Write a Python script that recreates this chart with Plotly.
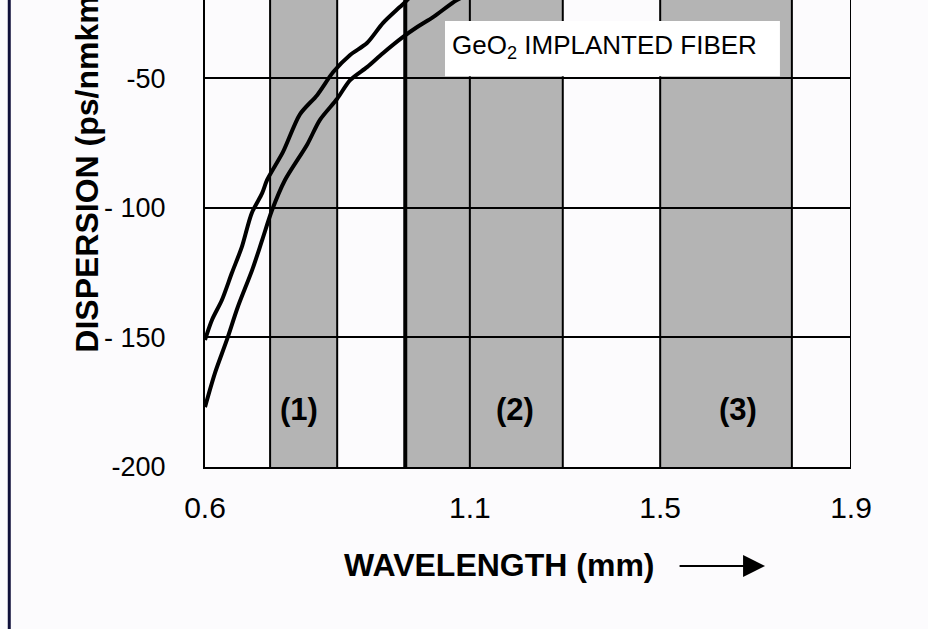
import plotly.graph_objects as go

# ---- data ----
curve_a_x = [0.600, 0.614, 0.634, 0.654, 0.674, 0.694, 0.715, 0.725, 0.757, 0.791, 0.826,
             0.858, 0.892, 0.926, 0.958, 0.992, 1.007, 1.025]
curve_a_y = [-151.0, -143.3, -135.6, -125.2, -115.2, -102.1, -94.4, -89.3, -78.5, -64.0, -56.5,
             -47.7, -41.1, -36.5, -28.8, -22.6, -19.9, -15.5]

curve_b_x = [0.600, 0.620, 0.644, 0.666, 0.695, 0.715, 0.735, 0.761, 0.806, 0.831, 0.866,
             0.892, 0.926, 0.958, 0.998, 1.027, 1.059, 1.107, 1.140]
curve_b_y = [-176.9, -163.8, -151.0, -138.3, -124.0, -112.5, -100.9, -89.3, -75.5, -66.2, -58.0,
             -50.8, -45.8, -40.4, -34.2, -30.3, -26.5, -19.9, -17.0]

band_starts = [0.731, 1.003, 1.516]
band_ends = [0.866, 1.320, 1.781]
band_labels = ["(1)", "(2)", "(3)"]
band_label_x = [0.789, 1.224, 1.673]
band_label_y = -178

vline_x = [0.731, 0.866, 1.133, 1.320, 1.516, 1.781, 1.900]
thick_vline_x = [1.003]

x_tick_vals = [0.600, 1.133, 1.516, 1.900]
x_tick_text = ["0.6", "1.1", "1.5", "1.9"]
y_tick_vals = [-50, -100, -150, -200]
y_tick_text = ["-50", "- 100", "- 150", "-200"]

box_x0, box_x1, box_y0, box_y1 = 1.083, 1.757, -49.3, -28.0
box_text = "GeO<sub>2</sub> IMPLANTED FIBER"

y_title = "DISPERSION (ps/nmkm)"
x_title = "WAVELENGTH (mm)"

FONT = "Liberation Sans, Arial, sans-serif"
BG = "#fcfbfd"
GRAY = "#b4b4b4"

fig = go.Figure()
fig.add_trace(go.Scatter(x=curve_a_x, y=curve_a_y, mode="lines",
                         line=dict(color="black", width=4, shape="spline", smoothing=0.8),
                         showlegend=False))
fig.add_trace(go.Scatter(x=curve_b_x, y=curve_b_y, mode="lines",
                         line=dict(color="black", width=4, shape="spline", smoothing=0.8),
                         showlegend=False))

shapes = []
for s, e in zip(band_starts, band_ends):
    shapes.append(dict(type="rect", xref="x", yref="y", x0=s, x1=e, y0=-200, y1=0,
                       fillcolor=GRAY, line=dict(width=0), layer="below"))
for vx in vline_x:
    shapes.append(dict(type="line", xref="x", yref="y", x0=vx, x1=vx, y0=-200, y1=0,
                       line=dict(color="black", width=2), layer="between"))
for vx in thick_vline_x:
    shapes.append(dict(type="line", xref="x", yref="y", x0=vx, x1=vx, y0=-200, y1=0,
                       line=dict(color="black", width=4), layer="between"))
shapes.append(dict(type="rect", xref="x", yref="y", x0=box_x0, x1=box_x1, y0=box_y0, y1=box_y1,
                   fillcolor="white", line=dict(width=0), layer="above"))
# left frame line of the scanned page
shapes.append(dict(type="line", xref="paper", yref="paper", x0=-0.303, x1=-0.303, y0=-0.347, y1=1.0,
                   line=dict(color="#10103a", width=3)))

annotations = []
for t, x in zip(band_labels, band_label_x):
    annotations.append(dict(x=x, y=band_label_y, xref="x", yref="y", text="<b>" + t + "</b>",
                            showarrow=False, font=dict(family=FONT, size=31, color="black")))
annotations.append(dict(x=1.093, y=-38.0, xref="x", yref="y", text=box_text, xanchor="left",
                        showarrow=False, font=dict(family=FONT, size=26, color="black")))
annotations.append(dict(x=-0.183, y=0.24, xref="paper", yref="paper", text="<b>" + y_title + "</b>",
                        textangle=-90, xanchor="center", yanchor="bottom", showarrow=False,
                        font=dict(family=FONT, size=32, color="black")))
annotations.append(dict(x=0.212, y=-0.21, xref="paper", yref="paper", text="<b>" + x_title + "</b>",
                        xanchor="left", yanchor="middle", showarrow=False,
                        font=dict(family=FONT, size=32, color="black")))
annotations.append(dict(x=0.867, y=-0.212, xref="paper", yref="paper", text="", ax=-87, ay=0,
                        showarrow=True, arrowhead=2, arrowsize=2.2, arrowwidth=2, arrowcolor="black"))

fig.update_layout(
    width=928, height=629, autosize=False,
    margin=dict(l=205, r=77, t=0, b=162),
    paper_bgcolor=BG, plot_bgcolor=BG,
    shapes=shapes, annotations=annotations,
    xaxis=dict(range=[0.6, 1.9], tickvals=x_tick_vals, ticktext=x_tick_text, showgrid=False,
               zeroline=False, showline=True, linecolor="black", linewidth=2, ticks="",
               ticklabelstandoff=13, tickfont=dict(family=FONT, size=30, color="black")),
    yaxis=dict(range=[-200, -19.9], tickvals=y_tick_vals, ticktext=y_tick_text, showgrid=True,
               gridcolor="black", gridwidth=2, zeroline=False, showline=True, linecolor="black",
               linewidth=2, ticks="", ticklabelstandoff=32,
               tickfont=dict(family=FONT, size=27, color="black")),
)

fig.write_html("out.html", config={"displayModeBar": False},
               post_script="document.body.style.margin='0';")
